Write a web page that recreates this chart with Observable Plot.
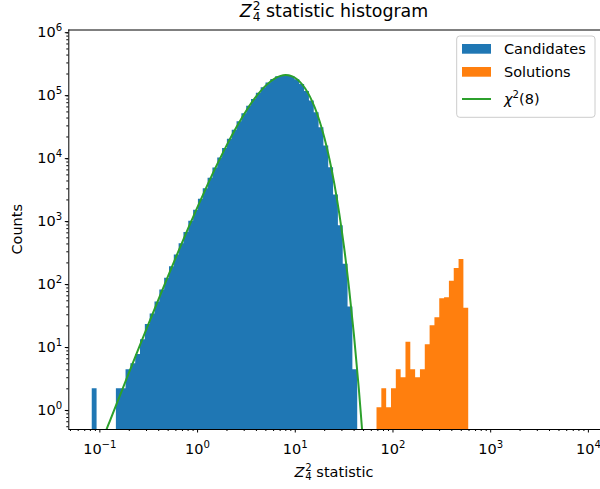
<!DOCTYPE html>
<html><head><meta charset="utf-8">
<script src="https://cdn.jsdelivr.net/npm/d3@7"></script>
<script src="https://cdn.jsdelivr.net/npm/@observablehq/plot@0.6"></script>
<style>body{margin:0;background:#fff}</style>
</head><body><div id="chart"></div>
<script>
// ---- data ----
const binStartExp = -1.078;   // log10 of the first bin's left edge
const binWidthExp = 0.0494;   // log10 width of each bin
const candidateCounts = [2,0,0,0,0,2,2,4,5,7,12,21,31,48,74,114,174,266,403,610,918,1373,2043,3016,4419,6420,9233,13130,18450,25550,34840,46720,61420,78990,99130,121100,143400,164000,180400,190200,191100,181900,162700,136100,105400,74820,48380,28100,14440,6490,2400,780,190,40,4];
const solutionStartBin = 59;
const solutionCounts = [1,2,1,2,4,3,11,4,3,4,10,20,27,54,56,102,163,227,38];
const chiX = [0.1122,0.1259,0.1585,0.1995,0.2512,0.3162,0.3981,0.5012,0.631,0.7943,1,1.2589,1.5849,1.9953,2.5119,3.1623,3.9811,5.0119,6.3096,7.0795,7.9433,8.9125,10,11.22,12.589,14.125,15.849,17.783,19.953,22.387,25.119,28.184,31.623,35.481,39.811,44.668,50.119];
const chiY = [0.385,0.605,1.495,3.68,9.0,21.9,52.8,126,296.5,686,1555,3432,7325,14990,29070,52780,87990,132000,173400,186900,192300,187800,172800,148800,118900,87460,58530,35270,18890,8863,3584,1227,348,80.2,14.6,2.04,0.21];
const xMajor = [0.1, 1, 10, 100, 1000, 10000];
const yMajor = [1, 10, 100, 1000, 10000, 100000, 1000000];
const legendLabels = ["Candidates", "Solutions"];
const colors = {cand: "#1f77b4", sol: "#ff7f0e", chi: "#2ca02c"};
const xDomain = [Math.pow(10, -1.318), Math.pow(10, 4.124)];
const yDomain = [Math.pow(10, -0.345), 1e6];

// ---- tables ----
const edge = i => Math.pow(10, binStartExp + i * binWidthExp);
// split a histogram into contiguous runs of non-empty bins, as step outlines
function runs(counts, startBin, series) {
  const out = []; let run = 0, open = false;
  counts.forEach((c, j) => {
    if (c > 0) {
      if (!open) { run++; open = true; }
      out.push({x: edge(startBin + j), c, run: series + run});
      const next = counts[j + 1];
      if (!(next > 0)) { out.push({x: edge(startBin + j + 1), c, run: series + run}); open = false; }
    }
  });
  return out;
}
const candTable = runs(candidateCounts, 0, "cand");
const solTable = runs(solutionCounts, solutionStartBin, "sol");
const chiTable = chiX.map((x, i) => ({x, y: chiY[i]}));
const minor = (lo, hi, dom) => { const a = []; for (let k = lo; k <= hi; k++) for (let m = 2; m <= 9; m++) { const v = m * Math.pow(10, k); if (v >= dom[0] && v <= dom[1]) a.push(v); } return a; };
const xMinor = minor(-2, 4, xDomain);
const yMinor = minor(-1, 5, yDomain);
const fmt = d => "10^" + String(Math.round(Math.log10(d))).replace("-", "\u2212");

const FS = 14.5;
const svgEl = Plot.plot({
  width: 600, height: 489,
  marginTop: 29.5, marginBottom: 60, marginLeft: 68.3, marginRight: 0,
  style: {fontFamily: "DejaVu Sans", fontSize: FS + "px", background: "white", color: "black"},
  x: {type: "log", domain: xDomain, label: null},
  y: {type: "log", domain: yDomain, label: null},
  marks: [
    Plot.areaY(candTable, {x: "x", y1: yDomain[0], y2: "c", z: "run", curve: "step-after", fill: colors.cand, clip: true}),
    Plot.areaY(solTable, {x: "x", y1: yDomain[0], y2: "c", z: "run", curve: "step-after", fill: colors.sol, clip: true}),
    Plot.line(chiTable, {x: "x", y: "y", stroke: colors.chi, strokeWidth: 2, curve: "catmull-rom", clip: true}),
    Plot.ruleX([xDomain[0]], {stroke: "black", strokeWidth: 1}),
    Plot.ruleY([yDomain[0], yDomain[1]], {stroke: "black", strokeWidth: 1}),
    Plot.axisX({ticks: xMajor, tickSize: 3.5, tickPadding: 11, tickFormat: fmt, label: null}),
    Plot.axisX({ticks: xMinor, tickSize: 2, tickFormat: () => "", label: null}),
    Plot.axisY({ticks: yMajor, tickSize: 3.5, tickPadding: 3.1, tickFormat: fmt, dy: 2.7, label: null}),
    Plot.axisY({ticks: yMinor, tickSize: 2, tickFormat: () => "", label: null})
  ]
});
document.getElementById("chart").appendChild(svgEl);
const svg = d3.select(svgEl);

// superscript tick labels
svg.selectAll("text").each(function() {
  const m = /^10\^(.+)$/.exec(this.textContent);
  if (!m) return;
  const el = d3.select(this);
  el.text("");
  el.append("tspan").text("10");
  el.append("tspan").attr("font-size", FS * 0.7).attr("dy", -6.2).text(m[1]);
});

// Z_4^2 math text helper
function zText(x, y, fs, rest) {
  const t = svg.append("text").attr("x", x).attr("y", y).attr("text-anchor", "middle")
    .attr("font-size", fs).attr("fill", "black").style("white-space", "pre");
  t.append("tspan").attr("font-style", "italic").text("Z");
  t.append("tspan").attr("font-size", fs * 0.7).attr("dx", fs * 0.06).attr("dy", -fs * 0.42).text("2");
  t.append("tspan").attr("font-size", fs * 0.7).attr("dx", -fs * 0.7 * 0.636).attr("dy", fs * 0.42 + fs * 0.24).text("4");
  t.append("tspan").attr("dy", -fs * 0.24).text(" " + rest);
  return t;
}
zText(334, 17, 17.4, "statistic histogram");
zText(334, 477, FS, "statistic");

svg.append("text").attr("transform", "translate(21.5,229.25) rotate(-90)")
  .attr("text-anchor", "middle").attr("font-size", FS).attr("fill", "black").text("Counts");

// legend
const lg = svg.append("g").attr("text-anchor", "start");
lg.append("rect").attr("x", 456.7).attr("y", 36).attr("width", 138.3).attr("height", 81.3)
  .attr("rx", 3).attr("fill", "white").attr("fill-opacity", 0.8).attr("stroke", "#cccccc").attr("stroke-width", 1);
const patchColors = [colors.cand, colors.sol];
const patchY = [44, 67];
legendLabels.forEach((lab, i) => {
  lg.append("rect").attr("x", 462).attr("y", patchY[i]).attr("width", 29).attr("height", 9.7).attr("fill", patchColors[i]);
  lg.append("text").attr("x", 504).attr("y", patchY[i] + 10).attr("text-anchor", "start").attr("font-size", FS).attr("fill", "black").text(lab);
});
lg.append("line").attr("x1", 462).attr("x2", 491).attr("y1", 99).attr("y2", 99).attr("stroke", colors.chi).attr("stroke-width", 2);
const ct = lg.append("text").attr("x", 504).attr("y", 104).attr("text-anchor", "start").attr("font-size", FS).attr("fill", "black");
ct.append("tspan").attr("font-style", "italic").text("\u03c7");
ct.append("tspan").attr("font-size", FS * 0.7).attr("dy", -6.2).text("2");
ct.append("tspan").attr("dy", 6.2).text("(8)");
</script>
</body></html>
